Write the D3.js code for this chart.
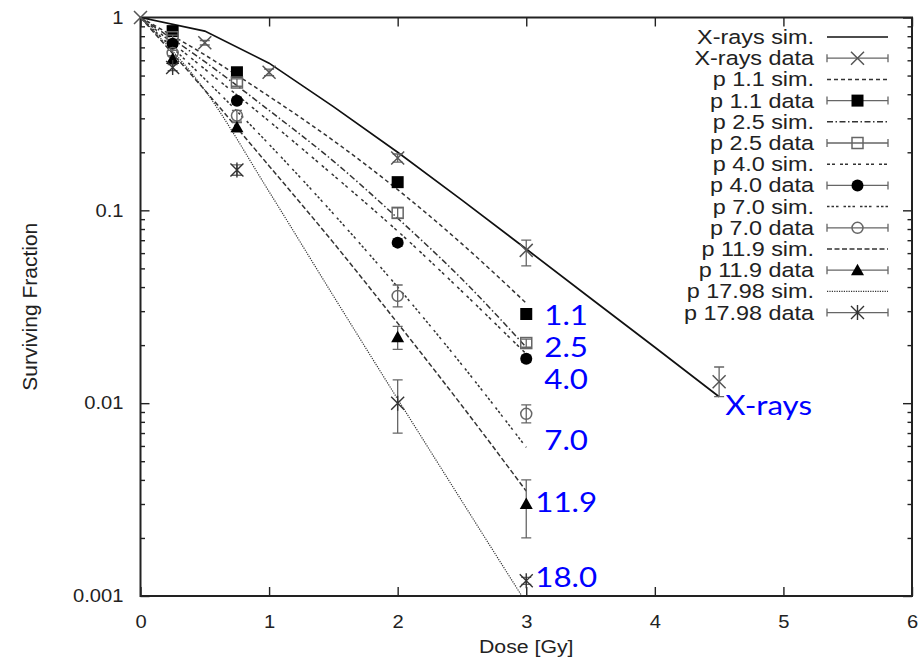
<!DOCTYPE html>
<html>
<head>
<meta charset="utf-8">
<script src="https://cdn.jsdelivr.net/npm/d3@7"></script>
<style>
  body { margin: 0; background: #fff; }
  text { font-family: "Liberation Sans", Arial, sans-serif; fill: #222; }
</style>
</head>
<body>
<svg id="chart" width="920" height="663"></svg>
<script>
// ---- simulated curves (surviving fraction) ----
const simDoses = [0, 0.5, 1, 1.5, 2, 2.5, 3];
const xraySimDoses = [0, 0.5, 1, 1.5, 2, 2.5, 3, 3.5, 4, 4.5];
const xraySim = [1, 0.85, 0.58, 0.345, 0.2, 0.113, 0.063, 0.035, 0.0195, 0.0108];
const p11Sim = [1, 0.64, 0.39, 0.23, 0.128, 0.067, 0.033];
const p25Sim = [1, 0.59, 0.33, 0.18, 0.091, 0.044, 0.0195];
const p40Sim = [1, 0.54, 0.29, 0.152, 0.078, 0.038, 0.018];
const p70Sim = [1, 0.48, 0.22, 0.096, 0.04, 0.0158, 0.0059];
const p119Sim = [1, 0.42, 0.17, 0.068, 0.026, 0.0097, 0.0035];
const p1798Sim = [1, 0.42, 0.125, 0.036, 0.0105, 0.0031, 0.00092];

// ---- measured data with error bars ----
const xrayDataDoses = [0, 0.5, 1, 2, 3, 4.5];
const xrayData = [1, 0.74, 0.52, 0.187, 0.062, 0.0129];
const xrayLo   = [1, 0.72, 0.50, 0.178, 0.0515, 0.0108];
const xrayHi   = [1, 0.76, 0.54, 0.196, 0.070, 0.0154];

const dataDoses = [0.25, 0.75, 2, 3];
const p11Data = [0.85, 0.52, 0.14, 0.029];
const p11Lo   = [0.83, 0.50, 0.135, 0.028];
const p11Hi   = [0.87, 0.54, 0.145, 0.030];
const p25Data = [0.79, 0.46, 0.097, 0.0205];
const p25Lo   = [0.77, 0.44, 0.091, 0.0195];
const p25Hi   = [0.81, 0.48, 0.103, 0.0215];
const p40Data = [0.73, 0.37, 0.068, 0.017];
const p40Lo   = [0.71, 0.355, 0.065, 0.0163];
const p40Hi   = [0.75, 0.385, 0.071, 0.0177];
const p70Data = [0.655, 0.31, 0.036, 0.0088];
const p70Lo   = [0.635, 0.29, 0.0316, 0.0079];
const p70Hi   = [0.675, 0.33, 0.041, 0.0098];
const p119Data = [0.61, 0.27, 0.022, 0.003];
const p119Lo   = [0.59, 0.255, 0.019, 0.002];
const p119Hi   = [0.63, 0.285, 0.025, 0.004];
const p1798Data = [0.55, 0.162, 0.01, 0.0012];
const p1798Lo   = [0.53, 0.152, 0.007, 0.00115];
const p1798Hi   = [0.57, 0.172, 0.0132, 0.00125];

const xTicks = [0, 1, 2, 3, 4, 5, 6];
const yTicks = [0.001, 0.01, 0.1, 1];
const yTickLabels = ["0.001", "0.01", "0.1", "1"];

const svg = d3.select("#chart");
const plotLeft = 140.5, plotRight = 912, plotTop = 17.5, plotBottom = 596;

const x = d3.scaleLinear().domain([0, 6]).range([plotLeft, plotRight]);
const y = d3.scaleLog().domain([0.001, 1]).range([plotBottom, plotTop]);

// the source picture is stretched sideways, text too
const sx = 1.12;

svg.append("clipPath").attr("id", "plotClip")
    .append("rect")
    .attr("x", plotLeft).attr("y", plotTop)
    .attr("width", plotRight - plotLeft).attr("height", plotBottom - plotTop);

// minor log ticks 2..9 in each decade
let minorTicks = [];
[0.001, 0.01, 0.1].forEach(function(dec) {
    for (let k = 2; k <= 9; k++) minorTicks.push(dec * k);
});

function styleAxis(g) {
    g.select(".domain").remove();
    g.selectAll(".tick line").attr("stroke", "#222").attr("stroke-width", 1.4);
}

// left axis
svg.append("g").attr("transform", "translate(" + plotLeft + ",0)")
    .call(d3.axisLeft(y).tickValues(yTicks).tickSize(-9).tickPadding(17)
        .tickFormat(function(d, i) { return yTickLabels[i]; }))
    .call(styleAxis)
    .selectAll("text")
    .style("font-size", "18px")
    .attr("x", -17 / sx)
    .attr("transform", "scale(" + sx + ",1)");
svg.append("g").attr("transform", "translate(" + plotLeft + ",0)")
    .call(d3.axisLeft(y).tickValues(minorTicks).tickSize(-4.5).tickFormat(""))
    .call(styleAxis);

// right axis (mirror ticks)
svg.append("g").attr("transform", "translate(" + plotRight + ",0)")
    .call(d3.axisRight(y).tickValues(yTicks).tickSize(-9).tickFormat(""))
    .call(styleAxis);
svg.append("g").attr("transform", "translate(" + plotRight + ",0)")
    .call(d3.axisRight(y).tickValues(minorTicks).tickSize(-4.5).tickFormat(""))
    .call(styleAxis);

// bottom axis
svg.append("g").attr("transform", "translate(0," + plotBottom + ")")
    .call(d3.axisBottom(x).tickValues(xTicks).tickSize(-9).tickPadding(19)
        .tickFormat(d3.format("d")))
    .call(styleAxis)
    .selectAll("text")
    .style("font-size", "18px")
    .attr("transform", "scale(" + sx + ",1)");

// top axis (mirror ticks)
svg.append("g").attr("transform", "translate(0," + plotTop + ")")
    .call(d3.axisTop(x).tickValues(xTicks).tickSize(-9).tickFormat(""))
    .call(styleAxis);

// frame
svg.append("rect")
    .attr("x", plotLeft).attr("y", plotTop)
    .attr("width", plotRight - plotLeft).attr("height", plotBottom - plotTop)
    .attr("fill", "none").attr("stroke", "#222").attr("stroke-width", 2);

// axis titles
svg.append("text")
    .attr("transform", "translate(" + (plotLeft + plotRight) / 2 + ",653) scale(" + sx + ",1)")
    .attr("text-anchor", "middle")
    .style("font-size", "19px")
    .text("Dose [Gy]");

svg.append("text")
    .attr("transform", "translate(37," + (plotTop + plotBottom) / 2 + ") rotate(-90)")
    .attr("text-anchor", "middle")
    .style("font-size", "21px")
    .text("Surviving Fraction");

// ---- series definitions ----
const simSeries = [
    { label: "X-rays sim.", doses: xraySimDoses, values: xraySim, dash: null, width: 1.7, color: "#111", curve: d3.curveLinear },
    { label: "p 1.1 sim.", doses: simDoses, values: p11Sim, dash: "4,3", width: 1.5, color: "#333" },
    { label: "p 2.5 sim.", doses: simDoses, values: p25Sim, dash: "6,2.5,1.5,2.5", width: 1.5, color: "#333" },
    { label: "p 4.0 sim.", doses: simDoses, values: p40Sim, dash: "3,2,3,5", width: 1.5, color: "#333" },
    { label: "p 7.0 sim.", doses: simDoses, values: p70Sim, dash: "2.5,2,2.5,2,2.5,5", width: 1.5, color: "#333" },
    { label: "p 11.9 sim.", doses: simDoses, values: p119Sim, dash: "5,2.5", width: 1.5, color: "#333" },
    { label: "p 17.98 sim.", doses: simDoses, values: p1798Sim, dash: "1.2,1.2", width: 1.2, color: "#333" }
];

const dataSeries = [
    { label: "X-rays data", doses: xrayDataDoses, values: xrayData, lo: xrayLo, hi: xrayHi, marker: "cross" },
    { label: "p 1.1 data", doses: dataDoses, values: p11Data, lo: p11Lo, hi: p11Hi, marker: "squareFilled" },
    { label: "p 2.5 data", doses: dataDoses, values: p25Data, lo: p25Lo, hi: p25Hi, marker: "squareOpen" },
    { label: "p 4.0 data", doses: dataDoses, values: p40Data, lo: p40Lo, hi: p40Hi, marker: "circleFilled" },
    { label: "p 7.0 data", doses: dataDoses, values: p70Data, lo: p70Lo, hi: p70Hi, marker: "circleOpen" },
    { label: "p 11.9 data", doses: dataDoses, values: p119Data, lo: p119Lo, hi: p119Hi, marker: "triangle" },
    { label: "p 17.98 data", doses: dataDoses, values: p1798Data, lo: p1798Lo, hi: p1798Hi, marker: "star" }
];

// ---- simulated lines ----
const linesG = svg.append("g").attr("clip-path", "url(#plotClip)");
simSeries.forEach(function(s) {
    let line = d3.line()
        .x(function(d) { return x(d[0]); })
        .y(function(d) { return y(d[1]); })
        .curve(s.curve || d3.curveMonotoneX);
    linesG.append("path")
        .datum(d3.zip(s.doses, s.values))
        .attr("d", line)
        .attr("fill", "none")
        .attr("stroke", s.color)
        .attr("stroke-width", s.width)
        .attr("stroke-dasharray", s.dash);
});

// ---- markers ----
function drawMarker(g, type) {
    if (type == "cross") {
        g.append("path").attr("d", "M-6.5,-6.5L6.5,6.5M-6.5,6.5L6.5,-6.5")
            .attr("stroke", "#555").attr("stroke-width", 1.5).attr("fill", "none");
    } else if (type == "squareFilled") {
        g.append("rect").attr("x", -6).attr("y", -6).attr("width", 12).attr("height", 12)
            .attr("fill", "#000");
    } else if (type == "squareOpen") {
        g.append("rect").attr("x", -5.5).attr("y", -5.5).attr("width", 11).attr("height", 11)
            .attr("fill", "none").attr("stroke", "#666").attr("stroke-width", 1.5);
    } else if (type == "circleFilled") {
        g.append("circle").attr("r", 6).attr("fill", "#000");
    } else if (type == "circleOpen") {
        g.append("circle").attr("r", 5.5)
            .attr("fill", "none").attr("stroke", "#666").attr("stroke-width", 1.5);
    } else if (type == "triangle") {
        g.append("path").attr("d", "M0,-6.5L6.5,5L-6.5,5Z").attr("fill", "#000");
    } else if (type == "star") {
        g.append("path").attr("d", "M-6.5,-6.5L6.5,6.5M-6.5,6.5L6.5,-6.5M0,-7.5L0,7.5")
            .attr("stroke", "#333").attr("stroke-width", 1.4).attr("fill", "none");
    }
}

const pointsG = svg.append("g");
dataSeries.forEach(function(s) {
    s.doses.forEach(function(d, i) {
        let px = x(d);
        let g = pointsG.append("g");
        if (s.hi[i] > s.lo[i]) {
            g.append("path")
                .attr("d", "M" + px + "," + y(s.lo[i]) + "V" + y(s.hi[i]) +
                    "M" + (px - 5) + "," + y(s.lo[i]) + "h10" +
                    "M" + (px - 5) + "," + y(s.hi[i]) + "h10")
                .attr("stroke", "#666").attr("stroke-width", 1.3).attr("fill", "none");
        }
        let m = g.append("g").attr("transform", "translate(" + px + "," + y(s.values[i]) + ")");
        drawMarker(m, s.marker);
    });
});

// ---- legend ----
const legendX = 814, sampleX0 = 827, sampleX1 = 888, rowY0 = 37, rowH = 21.2;
const legendG = svg.append("g");
simSeries.forEach(function(s, i) {
    let ds = dataSeries[i];
    [s, ds].forEach(function(entry, j) {
        let ry = rowY0 + (2 * i + j) * rowH;
        legendG.append("text")
            .attr("transform", "translate(" + legendX + "," + (ry + 7) + ") scale(1.2,1)")
            .attr("text-anchor", "end")
            .style("font-size", "19.5px")
            .text(entry.label);
        if (j == 0) {
            legendG.append("line")
                .attr("x1", sampleX0).attr("x2", sampleX1)
                .attr("y1", ry).attr("y2", ry)
                .attr("stroke", s.color).attr("stroke-width", s.width)
                .attr("stroke-dasharray", s.dash);
        } else {
            legendG.append("path")
                .attr("d", "M" + sampleX0 + "," + ry + "H" + sampleX1 +
                    "M" + sampleX0 + "," + (ry - 4) + "v8" +
                    "M" + sampleX1 + "," + (ry - 4) + "v8")
                .attr("stroke", "#666").attr("stroke-width", 1.3).attr("fill", "none");
            drawMarker(legendG.append("g")
                .attr("transform", "translate(" + (sampleX0 + sampleX1) / 2 + "," + ry + ")"), entry.marker);
        }
    });
});

// ---- blue annotations next to the last points ----
const annotations = [
    { text: "1.1", dose: 3, value: p11Data[3], dx: 18, dy: 11 },
    { text: "2.5", dose: 3, value: p25Data[3], dx: 18, dy: 14 },
    { text: "4.0", dose: 3, value: p40Data[3], dx: 18, dy: 30.5 },
    { text: "7.0", dose: 3, value: p70Data[3], dx: 18, dy: 36 },
    { text: "11.9", dose: 3, value: p119Data[3], dx: 9, dy: 8 },
    { text: "18.0", dose: 3, value: p1798Data[3], dx: 9, dy: 6 },
    { text: "X-rays", dose: 4.5, value: xrayData[5], dx: 6, dy: 33 }
];
svg.append("g").selectAll("text")
    .data(annotations)
    .enter().append("text")
    .attr("transform", function(d) {
        return "translate(" + (x(d.dose) + d.dx) + "," + (y(d.value) + d.dy) + ") scale(1.18,1)";
    })
    .style("font-family", "Lato, 'Open Sans', sans-serif")
    .style("font-size", "26.5px")
    .style("fill", "#0000ff")
    .text(function(d) { return d.text; });
</script>
</body>
</html>
